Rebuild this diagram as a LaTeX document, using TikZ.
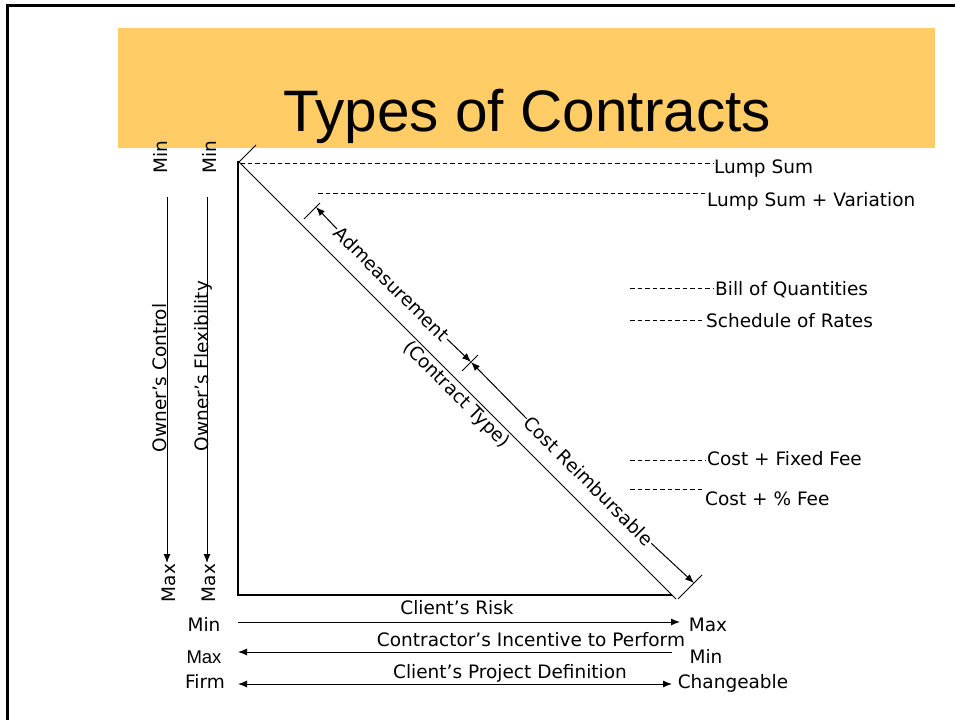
\documentclass[tikz,border=0pt]{standalone}
\usepackage{fontspec}
\setmainfont{DejaVu Sans}
\newfontfamily\arialfont{Liberation Sans}
\usetikzlibrary{arrows.meta,positioning}
\definecolor{titlebar}{HTML}{FFCC66}

\begin{document}
\begin{tikzpicture}[x=1pt,y=-1pt,
    lbl/.style={font=\fontsize{18.5}{20}\selectfont,inner sep=1pt},
    guide/.style={line width=1pt,dash pattern=on 4.5pt off 3pt},
    axis/.style={line width=2pt},
    fine/.style={line width=1pt},
    arr/.style={fine,-{Latex[length=9pt,width=7pt]}},
    dblarr/.style={fine,{Latex[length=9pt,width=7pt]}-{Latex[length=9pt,width=7pt]}}]
    \useasboundingbox (0,0) rectangle (955,720);
    % frame and title bar
    \draw[line width=3pt] (7,720) -- (7,5) -- (955,5);
    \fill[titlebar] (118,28) rectangle (935,148);
    \node[font=\arialfont\fontsize{58.5}{60}\selectfont,anchor=base] (title) at (527,131) {Types of Contracts};
    % triangle
    \coordinate (top) at (238,161);
    \coordinate (origin) at (238,595);
    \coordinate (right) at (672,595);
    \coordinate (diagend) at (676,599);
    \draw[axis] (top) -- (origin) -- (right);
    \draw[fine] (top) -- (diagend);
    % contract types
    \node[lbl,anchor=base west] (ls) at (713,173) {Lump Sum};
    \node[lbl,anchor=base west] (lsv) at (706,206) {Lump Sum + Variation};
    \node[lbl,anchor=base west] (boq) at (714,295) {Bill of Quantities};
    \node[lbl,anchor=base west] (sor) at (705,327) {Schedule of Rates};
    \node[lbl,anchor=base west] (cff) at (706,465) {Cost + Fixed Fee};
    \node[lbl,anchor=base west] (cpf) at (704,505) {Cost + \% Fee};
    \coordinate (ls0) at (240,163);
    \coordinate (lsv0) at (318,193);
    \coordinate (boq0) at (630,288);
    \coordinate (sor0) at (630,320);
    \coordinate (cff0) at (630,460);
    \coordinate (cpf0) at (630,489);
    \foreach \n in {ls,lsv,boq,sor,cff,cpf}
        \draw[guide] (\n0) -- (\n0 -| \n.west);
    % dimension line along the diagonal
    \node[lbl,rotate=-45] (adm) at (392,284) {Admeasurement};
    \node[lbl,rotate=-45] (crb) at (589,481) {Cost Reimbursable};
    \node[lbl,rotate=-45] (ctype) at (456,395) {(Contract Type)};
    \coordinate (d1) at (316,207);
    \coordinate (d2) at (471,362);
    \coordinate (d3) at (694,583);
    \draw[fine] (top) ++(0,2) -- ++(18,-18);
    \draw[fine] (d1) ++(4,-4) -- ++(-16,16);
    \draw[fine] (d2) ++(7,-7) -- ++(-16,16);
    \draw[fine] (d3) ++(8,-8) -- ++(-24,24);
    \draw[arr] (adm.west) -- (d1);
    \draw[arr] (adm.east) -- (d2);
    \draw[arr] (crb.west) -- (d2);
    \draw[arr] (crb.east) -- (d3);
    % owner scales
    \node[lbl,rotate=90] (cmin) at (160,157) {Min};
    \node[lbl,rotate=90] (cmax) at (169,583) {Max};
    \node[lbl,rotate=90] (fmin) at (209,157) {Min};
    \node[lbl,rotate=90] (fmax) at (209,583) {Max};
    \node[lbl,rotate=90] (ctl) at (160,378) {Owner’s Control};
    \node[lbl,rotate=90] (flx) at (203,366) {Owner’s Flexibility};
    \coordinate (ctl1) at (167,197);
    \coordinate (ctl2) at (167,563);
    \coordinate (flx1) at (207,197);
    \coordinate (flx2) at (207,563);
    \draw[arr] (ctl1) -- (ctl2);
    \draw[arr] (flx1) -- (flx2);
    % client scales
    \node[lbl,anchor=base] (risk) at (457,614) {Client’s Risk};
    \node[lbl,anchor=base] (incent) at (531,646) {Contractor's Incentive to Perform};
    \node[lbl,anchor=base] (projdef) at (510,678) {Client’s Project Definition};
    \node[lbl,anchor=base] (rmin) at (204,631) {Min};
    \node[lbl,anchor=base] (imax) at (204,663) {\arialfont Max};
    \node[lbl,anchor=base] (firm) at (205,688) {Firm};
    \node[lbl,anchor=base] (rmax) at (708,631) {Max};
    \node[lbl,anchor=base] (imin) at (706,663) {Min};
    \node[lbl,anchor=base] (chg) at (733,688) {Changeable};
    \coordinate (r1) at (238,622);
    \coordinate (r2) at (680,622);
    \coordinate (i1) at (672,652);
    \coordinate (i2) at (238,652);
    \coordinate (p1) at (238,684);
    \coordinate (p2) at (672,684);
    \draw[arr] (r1) -- (r2);
    \draw[arr] (i1) -- (i2);
    \draw[dblarr] (p1) -- (p2);
\end{tikzpicture}
\end{document}
